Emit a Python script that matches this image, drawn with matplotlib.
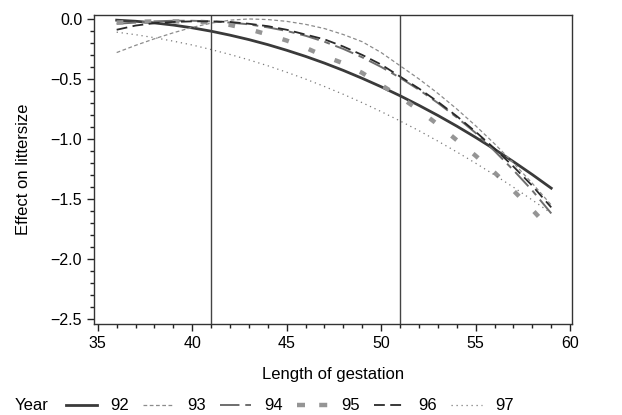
import matplotlib
matplotlib.use("Agg")
import matplotlib.pyplot as plt
from matplotlib.lines import Line2D
from matplotlib.ticker import MultipleLocator

plt.rcParams['font.family'] = ['Liberation Sans', 'DejaVu Sans']

gestation = [36, 37, 38, 39, 40, 41, 42, 43, 44, 45, 46, 47,
             48, 49, 50, 51, 52, 53, 54, 55, 56, 57, 58, 59]

y92 = [-0.010, -0.019, -0.033, -0.051, -0.074, -0.102, -0.135, -0.172,
       -0.214, -0.261, -0.312, -0.368, -0.429, -0.495, -0.565, -0.640,
       -0.720, -0.804, -0.893, -0.987, -1.086, -1.189, -1.297, -1.410]
y93 = [-0.280, -0.220, -0.165, -0.115, -0.070, -0.035, -0.010, 0.000,
       -0.005, -0.020, -0.045, -0.080, -0.130, -0.190, -0.280, -0.390,
       -0.500, -0.620, -0.750, -0.890, -1.040, -1.200, -1.370, -1.550]
y94 = [-0.040, -0.030, -0.020, -0.015, -0.015, -0.020, -0.030, -0.045,
       -0.070, -0.100, -0.140, -0.190, -0.250, -0.320, -0.400, -0.490,
       -0.590, -0.700, -0.820, -0.950, -1.100, -1.260, -1.430, -1.620]
y95 = [-0.030, -0.025, -0.020, -0.020, -0.020, -0.030, -0.050, -0.085,
       -0.130, -0.180, -0.240, -0.310, -0.370, -0.450, -0.550, -0.650,
       -0.760, -0.880, -1.010, -1.140, -1.280, -1.430, -1.590, -1.760]
y96 = [-0.090, -0.055, -0.035, -0.025, -0.020, -0.020, -0.025, -0.040,
       -0.060, -0.090, -0.130, -0.170, -0.230, -0.300, -0.380, -0.480,
       -0.580, -0.690, -0.810, -0.940, -1.080, -1.230, -1.390, -1.570]
y97 = [-0.110, -0.131, -0.156, -0.185, -0.217, -0.255, -0.296, -0.341,
       -0.390, -0.444, -0.501, -0.563, -0.628, -0.698, -0.772, -0.850,
       -0.931, -1.018, -1.108, -1.202, -1.300, -1.402, -1.509, -1.619]

years = ['92', '93', '94', '95', '96', '97']
series = [y92, y93, y94, y95, y96, y97]
ref_lines = [41, 51]
xticks = [35, 40, 45, 50, 55, 60]
yticks = [0.0, -0.5, -1.0, -1.5, -2.0, -2.5]

styles = [
    dict(color='#3a3a3a', lw=2.0, linestyle='-'),
    dict(color='#8c8c8c', lw=0.9, linestyle=(0, (3, 2))),
    dict(color='#6e6e6e', lw=1.4, linestyle=(0, (10, 3, 3, 3))),
    dict(color='#959595', lw=3.2, linestyle=(0, (1.5, 4.8))),
    dict(color='#2a2a2a', lw=1.3, linestyle=(0, (6, 3))),
    dict(color='#7a7a7a', lw=0.9, linestyle=(0, (1, 3))),
]
legend_styles = [dict(st) for st in styles]
legend_styles[3]['linestyle'] = (0, (1.8, 3.2))

W, H = 622, 415
fig = plt.figure(figsize=(W / 100, H / 100), dpi=100)
ax = fig.add_axes([94 / W, 1 - 324 / H, (572 - 94) / W, (324 - 15) / H])

for yr, ys, st in zip(years, series, styles):
    ax.plot(gestation, ys, label=yr, **st)

for xv in ref_lines:
    ax.axvline(xv, color='#444444', lw=1.0)

ax.set_xlim(34.8, 60.1)
ax.set_ylim(-2.542, 0.033)
ax.set_xticks(xticks)
ax.set_yticks(yticks)
ax.set_yticklabels(['0.0', '\u22120.5', '\u22121.0', '\u22121.5', '\u22122.0', '\u22122.5'])
ax.xaxis.set_minor_locator(MultipleLocator(1))
ax.yaxis.set_minor_locator(MultipleLocator(0.1))
ax.tick_params(which='major', length=5, width=1, labelsize=11.5, color='#222222')
ax.tick_params(which='minor', length=3, width=1, color='#222222')
for sp in ax.spines.values():
    sp.set_color('#333333')
    sp.set_linewidth(1.0)

ax.set_xlabel('Length of gestation', fontsize=12, labelpad=12)
ax.set_ylabel('Effect on littersize', fontsize=12, labelpad=14)

# legend row
ly = 1 - 405 / H
fig.text(15 / W, ly, 'Year', fontsize=12, va='center', ha='left')
for i, (yr, st) in enumerate(zip(years, legend_styles)):
    x0 = 66 + 77 * i
    fig.add_artist(Line2D([x0 / W, (x0 + 31) / W], [ly, ly],
                          transform=fig.transFigure, **st))
    fig.text((x0 + 44) / W, ly, yr, fontsize=12, va='center', ha='left')

fig.savefig('out.png', dpi=100)
